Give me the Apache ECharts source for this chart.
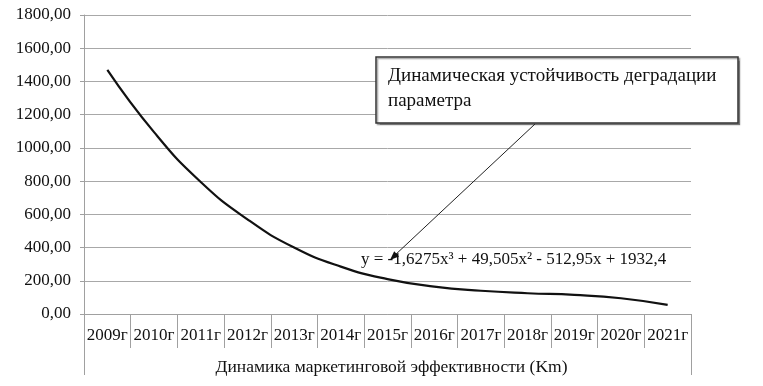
<!DOCTYPE html>
<html>
<head>
<meta charset="utf-8">
<script src="https://cdn.jsdelivr.net/npm/echarts@6/dist/echarts.min.js"></script>
<style>
html,body{margin:0;padding:0;background:#fff;}
#chart{width:763px;height:386px;}
</style>
</head>
<body>
<div id="chart"></div>
<script>
// ---- data ----
var categories = ['2009г','2010г','2011г','2012г','2013г','2014г','2015г','2016г','2017г','2018г','2019г','2020г','2021г'];
var values = [1470, 1095, 795, 570, 400, 285, 210, 165, 140, 125, 115, 95, 55];
var axisTitle = 'Динамика маркетинговой эффективности (Km)';
var calloutText = 'Динамическая устойчивость деградации\nпараметра';
var equationText = 'y = -1,6275x³ + 49,505x² - 512,95x + 1932,4';

var FONT = 'Liberation Serif';
var chart = echarts.init(document.getElementById('chart'), null, {renderer: 'canvas'});

chart.setOption({
  animation: false,
  backgroundColor: '#ffffff',
  grid: {left: 84, right: 72, top: 15, bottom: 72},
  xAxis: [{
    type: 'category',
    data: categories,
    boundaryGap: true,
    axisLine: {show: true, lineStyle: {color: '#a0a0a0', width: 1}},
    axisTick: {show: true, interval: 0, length: 34, lineStyle: {color: '#a0a0a0', width: 1}},
    axisLabel: {interval: 0, margin: 13, color: '#111', fontFamily: FONT, fontSize: 17}
  }, {
    type: 'category',
    data: [''],
    position: 'bottom',
    boundaryGap: true,
    axisLine: {show: false},
    axisTick: {show: true, length: 61, lineStyle: {color: '#a0a0a0', width: 1}},
    axisLabel: {show: false},
    name: axisTitle,
    nameLocation: 'middle',
    nameGap: 44,
    nameTextStyle: {color: '#111', fontFamily: FONT, fontSize: 17.5, padding: [0, 0, 0, 8]}
  }],
  yAxis: {
    type: 'value',
    min: 0, max: 1800, interval: 200,
    axisLine: {show: true, lineStyle: {color: '#a0a0a0', width: 1}},
    axisTick: {show: true, length: 4, lineStyle: {color: '#a0a0a0'}},
    splitLine: {show: true, lineStyle: {color: '#a8a8a8', width: 1}},
    axisLabel: {
      margin: 13, color: '#111', fontFamily: FONT, fontSize: 17,
      formatter: function (v) { return v.toFixed(2).replace('.', ','); }
    }
  },
  series: [{
    type: 'line',
    data: values,
    smooth: true,
    showSymbol: false,
    lineStyle: {color: '#111', width: 2.2}
  }],
  graphic: [{
    type: 'rect',
    shape: {x: 376, y: 57, width: 362, height: 66},
    style: {fill: '#fff', stroke: '#333', lineWidth: 1.5, shadowColor: 'rgba(0,0,0,0.35)', shadowOffsetX: 1.5, shadowOffsetY: 1.5, shadowBlur: 1},
    z: 100
  }, {
    type: 'text',
    x: 388, y: 64,
    style: {text: calloutText, fill: '#111', font: '19px "Liberation Serif"', lineHeight: 25},
    z: 101
  }, {
    type: 'text',
    x: 361, y: 251,
    style: {text: equationText, fill: '#111', font: '17px "Liberation Serif"'},
    z: 101
  }, {
    type: 'line',
    shape: {x1: 535, y1: 124, x2: 394, y2: 256},
    style: {stroke: '#222', lineWidth: 1},
    z: 102
  }, {
    type: 'polygon',
    shape: {points: [[390, 260], [399, 256.4], [394.2, 251.3]]},
    style: {fill: '#111'},
    z: 102
  }]
});
</script>
</body>
</html>
